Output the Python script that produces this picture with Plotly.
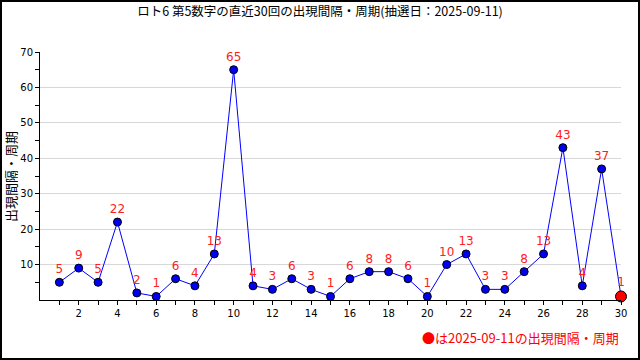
import plotly.graph_objects as go

draws = list(range(1, 31))
values = [5, 9, 5, 22, 2, 1, 6, 4, 13, 65, 4, 3, 6, 3, 1, 6, 8, 8, 6, 1, 10, 13, 3, 3, 8, 13, 43, 4, 37, 1]
title_text = "ロト6 第5数字の直近30回の出現間隔・周期(抽選日：2025-09-11)"
ytitle = "出現間隔・周期"
note = "●は2025-09-11の出現間隔・周期"
x_tickvals = list(range(1, 31))
x_ticktext = [str(v) if v % 2 == 0 else "" for v in x_tickvals]
y_tickvals = [10, 20, 30, 40, 50, 60, 70]

JP = "Noto Sans CJK JP, DejaVu Sans, sans-serif"

colors = ["#0000ee"] * (len(values) - 1) + ["#ff0000"]
sizes = [8] * (len(values) - 1) + [11]

fig = go.Figure()
fig.add_trace(go.Scatter(
    x=draws, y=values, mode="lines+markers+text",
    line=dict(color="#0000ff", width=1),
    marker=dict(color=colors, size=sizes, opacity=1, line=dict(color="#000000", width=1)),
    text=[str(v) for v in values], textposition="top center",
    textfont=dict(color="#ff2020", size=12, family="DejaVu Sans, sans-serif"),
    cliponaxis=False, showlegend=False, hoverinfo="x+y",
))

L, R, T, B = 40, 19, 52, 60
pw, ph = 640 - L - R, 360 - T - B

fig.update_layout(
    width=640, height=360,
    margin=dict(l=L, r=R, t=T, b=B, pad=0, autoexpand=False),
    paper_bgcolor="white", plot_bgcolor="white",
    title=dict(text=title_text, x=0.5, xanchor="center", y=1 - 12 / 360, yanchor="middle",
               font=dict(family=JP, size=12.5, color="#000000")),
    xaxis=dict(range=[0, 30], tickvals=x_tickvals, ticktext=x_ticktext, automargin=False,
               ticks="outside", ticklen=4, tickcolor="#000", tickwidth=1,
               showline=True, linecolor="#000", linewidth=1, showgrid=False, zeroline=False,
               tickfont=dict(family="DejaVu Sans, sans-serif", size=10, color="#000")),
    yaxis=dict(range=[0, 70], tickvals=y_tickvals, automargin=False,
               ticks="outside", ticklen=4, tickcolor="#000", tickwidth=1,
               minor=dict(tickvals=[5, 15, 25, 35, 45, 55, 65], ticks="outside", ticklen=4,
                          tickcolor="#000", showgrid=False),
               showline=True, linecolor="#000", linewidth=1,
               showgrid=True, gridcolor="#d8d8d8", gridwidth=1, zeroline=False,
               tickfont=dict(family="DejaVu Sans, sans-serif", size=10, color="#000")),
    shapes=[dict(type="rect", xref="paper", yref="paper",
                 x0=-(L - 1) / pw, x1=(640 - L - 1) / pw,
                 y0=-(B - 1) / ph, y1=(360 - B - 1) / ph,
                 line=dict(color="#000", width=2), fillcolor="rgba(0,0,0,0)")],
    annotations=[
        dict(text=note, xref="paper", yref="paper", x=1.0, y=-37 / ph,
             xanchor="right", yanchor="middle", showarrow=False,
             font=dict(family=JP, size=13, color="#ff0000")),
        dict(text=ytitle, xref="paper", yref="paper", x=-(L - 10) / pw, y=(300 - 177) / ph,
             xanchor="center", yanchor="middle", showarrow=False, textangle=-90,
             font=dict(family=JP, size=13, color="#000000")),
    ],
)

fig.write_html("out.html", config={"displayModeBar": False},
               post_script="document.body.style.margin='0';document.body.style.overflow='hidden';")
